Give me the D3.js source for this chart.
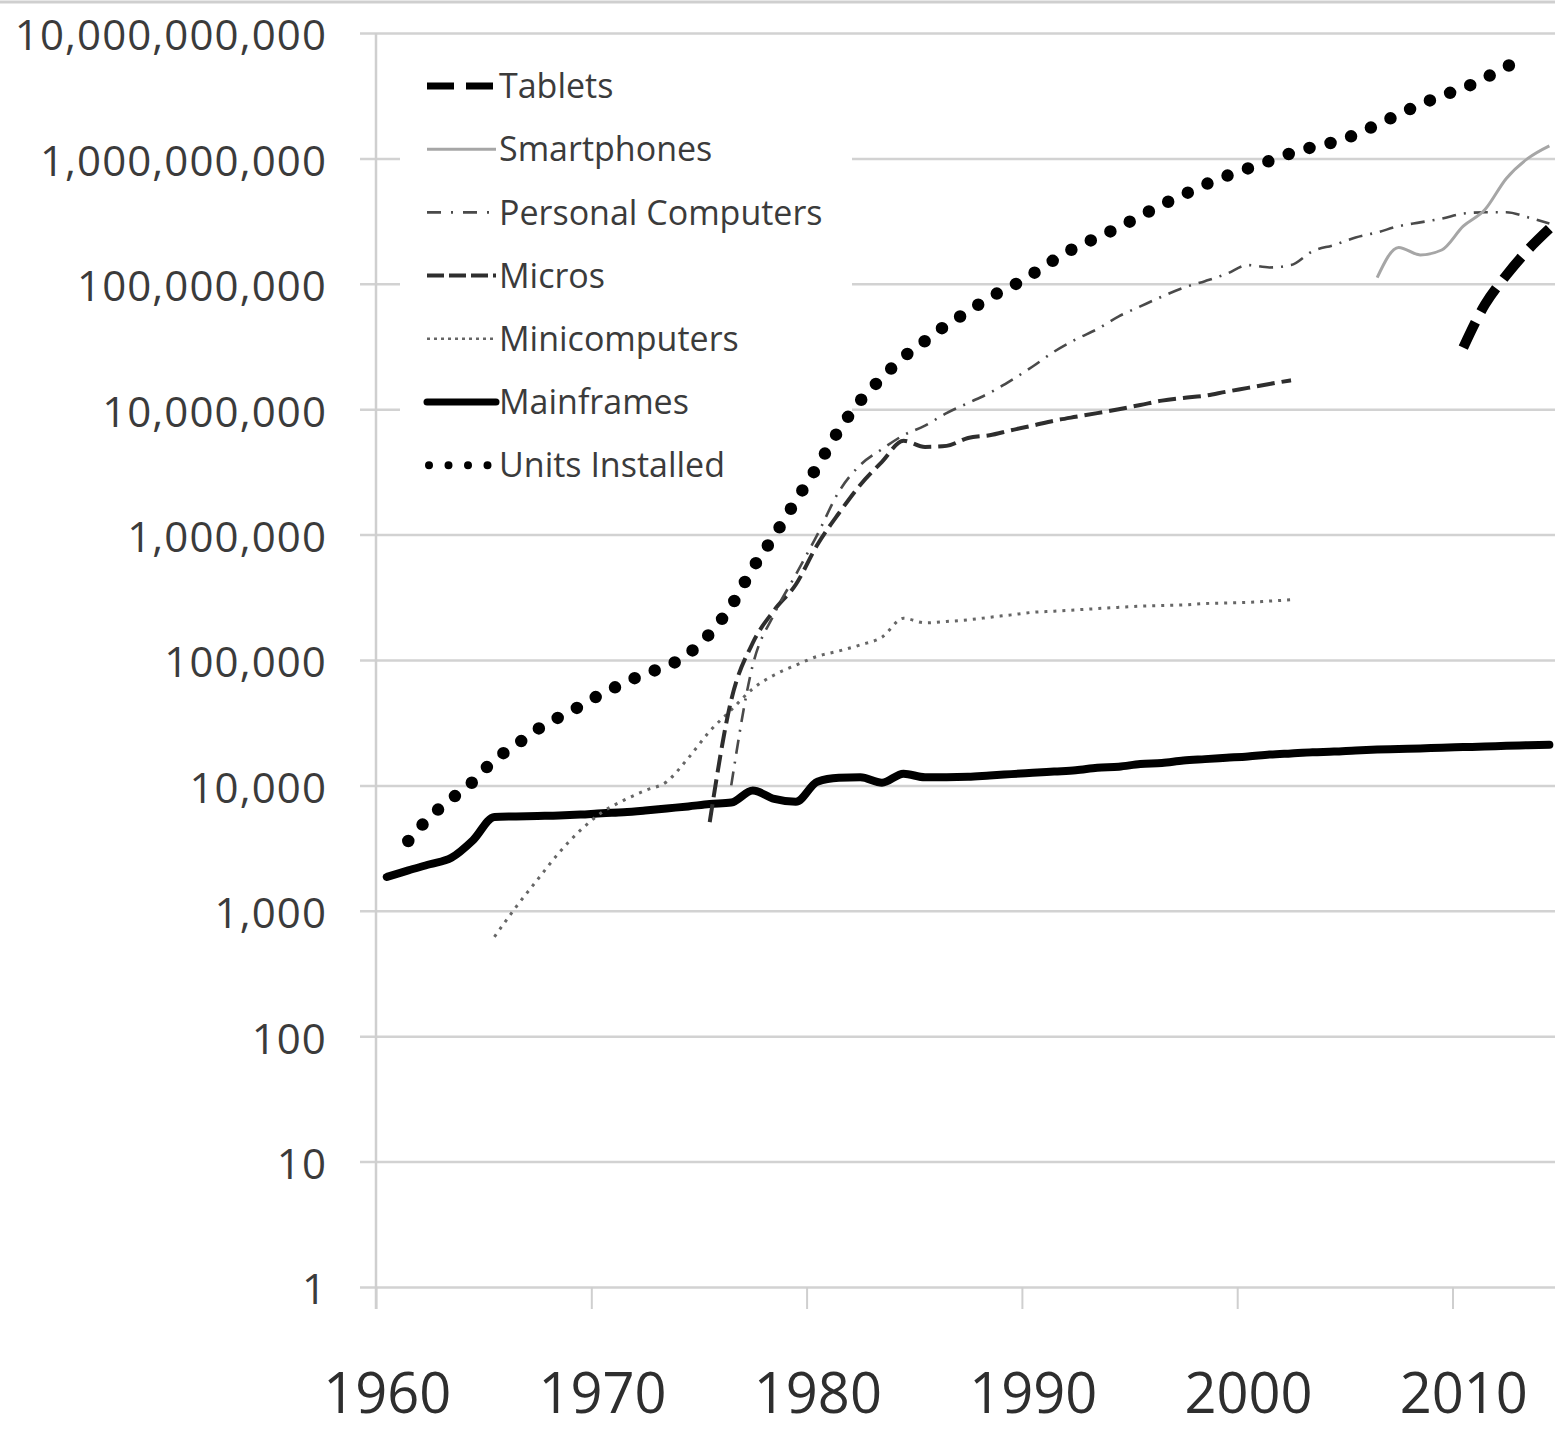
<!DOCTYPE html>
<html><head><meta charset="utf-8">
<script src="https://cdn.jsdelivr.net/npm/d3@7"></script>
<style>body{margin:0;background:#fff}svg{display:block}</style>
</head><body>
<svg id="c" width="1555" height="1432"></svg>
<script>
// ---- data ----
const yTickValues = [1, 10, 100, 1000, 10000, 100000, 1000000, 10000000, 100000000, 1000000000, 10000000000];
const xTickYears = [1960, 1970, 1980, 1990, 2000, 2010];
const legendNames = ["Tablets", "Smartphones", "Personal Computers", "Micros", "Minicomputers", "Mainframes", "Units Installed"];

const tabletsStart = 2010;
const tablets = [31e6, 68e6, 117e6, 186e6, 275e6];

const smartphonesStart = 2006;
const smartphones = [112e6, 195e6, 170e6, 186e6, 288e6, 389e6, 692e6, 1.0e9, 1.26e9];

const pcStart = 1976;
const personalComputers = [10000, 91000, 234000, 480000, 1000000, 2200000, 3600000, 4800000, 6200000, 7400000,
  9300000, 11200000, 13500000, 17000000, 21900000, 28800000, 36000000, 43500000, 55000000, 66000000,
  79000000, 93000000, 105000000, 120000000, 141000000, 135000000, 141000000, 182000000, 204000000, 234000000,
  257000000, 288000000, 309000000, 331000000, 363000000, 372000000, 372000000, 339000000, 302000000];

const microsStart = 1975;
const micros = [5100, 48000, 137000, 250000, 400000, 830000, 1480000, 2500000, 3800000, 5600000,
  5000000, 5100000, 5900000, 6200000, 6800000, 7400000, 8100000, 8700000, 9300000, 10000000,
  10800000, 11700000, 12300000, 12800000, 13800000, 14800000, 15900000, 17000000];

const minisStart = 1965;
const minicomputers = [620, 1070, 1770, 2900, 4400, 6100, 7600, 9100, 10700, 16500,
  27000, 40000, 59000, 76000, 91000, 107000, 118000, 132000, 152000, 215000,
  198000, 203000, 209000, 219000, 229000, 240000, 245000, 251000, 257000, 263000,
  269000, 272000, 275000, 282000, 285000, 288000, 295000, 302000];

const mainframesStart = 1960;
const mainframes = [1860, 2100, 2350, 2650, 3650, 5600, 5650, 5700, 5750, 5850,
  6000, 6100, 6300, 6550, 6800, 7100, 7300, 9100, 7800, 7400,
  10700, 11500, 11600, 10500, 12400, 11600, 11600, 11700, 12000, 12300,
  12600, 12900, 13200, 13800, 14100, 14800, 15100, 15800, 16200, 16600,
  17000, 17600, 18000, 18400, 18600, 19000, 19300, 19500, 19700, 20000,
  20200, 20400, 20700, 20900, 21100];

const unitsStart = 1961;
const unitsInstalled = [3600, 5600, 7800, 10700, 16000, 21000, 28000, 35000, 43000,
  54000, 65000, 78000, 89000, 112000, 162000, 270000, 540000, 980000, 1860000,
  3500000, 6800000, 11700000, 17800000, 26000000, 35000000, 47000000, 60000000, 78000000, 95000000,
  120000000, 155000000, 195000000, 234000000, 282000000, 347000000, 427000000, 513000000, 617000000, 724000000,
  832000000, 955000000, 1100000000, 1230000000, 1350000000, 1550000000, 1860000000, 2240000000, 2690000000, 3160000000,
  3630000000, 4370000000, 5370000000, 6610000000];

// ---- styles ----
const styles = {
  "Tablets":            {values: tablets, start: tabletsStart, color: "#000", w: 10, lw: 7, dash: "28,12", ldash: "27,12", cap: "butt"},
  "Smartphones":        {values: smartphones, start: smartphonesStart, color: "#a6a6a6", w: 3, lw: 3, dash: null, ldash: null, cap: "butt"},
  "Personal Computers": {values: personalComputers, start: pcStart, color: "#4a4a4a", w: 2.6, lw: 2.6, dash: "14,8,2,8", ldash: "14,10,2,10", cap: "butt"},
  "Micros":             {values: micros, start: microsStart, color: "#2e2e2e", w: 4, lw: 4, dash: "18,7", ldash: "17,5", cap: "butt"},
  "Minicomputers":      {values: minicomputers, start: minisStart, color: "#666", w: 3, lw: 2.5, dash: "3,6", ldash: "3,4", cap: "butt"},
  "Mainframes":         {values: mainframes, start: mainframesStart, color: "#000", w: 8, lw: 7, dash: null, ldash: null, cap: "round"},
  "Units Installed":    {values: unitsInstalled, start: unitsStart, color: "#000", w: 12.5, lw: 8, dash: null, dotGap: 21.7, ldash: "0,19.5", cap: "round"}
};

// ---- chart ----
const W = 1555, H = 1432;
const svg = d3.select("#c");
svg.append("rect").attr("width", W).attr("height", H).attr("fill", "#fff");
svg.append("line").attr("x1", 0).attr("x2", W).attr("y1", 2).attr("y2", 2)
  .attr("stroke", "#cfcfcf").attr("stroke-width", 3);

const x = d3.scaleLinear().domain([1960, 2010]).range([376, 1452.5]);
const y = d3.scaleLog().domain([1, 1e10]).range([1287, 33]);

const font = "'Open Sans', 'Noto Sans', sans-serif";
const textColor = "#3b3b3b";

// y axis with gridlines
const gy = svg.append("g").attr("transform", "translate(360,0)")
  .call(d3.axisLeft(y).tickValues(yTickValues).tickFormat(d3.format(","))
    .tickSize(-(W - 360)).tickPadding(33));
gy.select(".domain").remove();
gy.selectAll(".tick line").attr("stroke", "#d2d2d2").attr("stroke-width", 2.5);
gy.selectAll(".tick text").attr("font-family", font).attr("font-size", 42)
  .attr("letter-spacing", "1.1px")
  .attr("fill", textColor).attr("dy", "0.40em");

// x axis
const gx = svg.append("g").attr("transform", "translate(0,1287)")
  .call(d3.axisBottom(x).tickValues(xTickYears).tickFormat(d3.format("d"))
    .tickSize(22).tickPadding(64));
gx.select(".domain").remove();
gx.selectAll(".tick line").attr("stroke", "#cfcfcf").attr("stroke-width", 2);
gx.selectAll(".tick text").attr("font-family", font).attr("font-size", 56)
  .attr("fill", "#2e2e2e").attr("x", x(1960.5) - x(1960));

// vertical axis line
svg.append("line").attr("x1", x(1960)).attr("x2", x(1960))
  .attr("y1", y(1e10)).attr("y2", 1309)
  .attr("stroke", "#cfcfcf").attr("stroke-width", 2.5);

// legend background box
svg.append("rect").attr("x", 400).attr("y", 45).attr("width", 452).attr("height", 455).attr("fill", "#fff");

// series lines
const line = d3.line()
  .x(d => x(d.year + 0.5))
  .y(d => y(d.value))
  .curve(d3.curveMonotoneX);

const drawOrder = ["Units Installed", "Mainframes", "Minicomputers", "Micros", "Personal Computers", "Smartphones", "Tablets"];
drawOrder.forEach(name => {
  const s = styles[name];
  const pts = s.values.map((v, i) => ({year: s.start + i, value: v}));
  const p = svg.append("path").datum(pts).attr("d", line)
    .attr("fill", "none").attr("stroke", s.color).attr("stroke-width", s.w)
    .attr("stroke-linecap", s.cap).attr("stroke-linejoin", "round");
  if (s.dash) p.attr("stroke-dasharray", s.dash);
  if (s.dotGap) {
    // dots at both ends: spacing adjusted to divide the path evenly
    const L = p.node().getTotalLength();
    const gap = L / Math.round(L / s.dotGap);
    p.attr("stroke-dasharray", "0," + gap);
  }
});

// legend
const lg = svg.append("g");
legendNames.forEach((name, i) => {
  const s = styles[name];
  const cy = 86 + i * 63.2;
  const l = lg.append("line").attr("x1", name === "Units Installed" ? 429 : 427).attr("x2", 496)
    .attr("y1", cy).attr("y2", cy)
    .attr("stroke", s.color).attr("stroke-width", s.lw)
    .attr("stroke-linecap", s.cap);
  if (s.ldash) l.attr("stroke-dasharray", s.ldash);
  lg.append("text").attr("x", 499).attr("y", cy).attr("dy", "0.36em")
    .attr("font-family", font).attr("font-size", 34).attr("fill", textColor)
    .text(name);
});
</script>
</body></html>
